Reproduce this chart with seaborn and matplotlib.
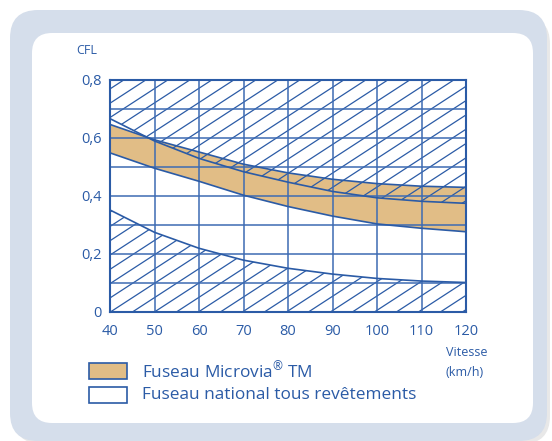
import matplotlib
matplotlib.use("Agg")
import matplotlib.pyplot as plt
from matplotlib.patches import FancyBboxPatch, Rectangle
from matplotlib.transforms import IdentityTransform
import numpy as np
import pandas as pd
import seaborn as sns

# vitesse (km/h)
vitesse = [40, 50, 60, 70, 80, 90, 100, 110, 120]
# fuseau Microvia TM
microvia_haut = [0.645, 0.592, 0.55, 0.508, 0.478, 0.456, 0.441, 0.432, 0.428]
microvia_bas = [0.547, 0.494, 0.449, 0.401, 0.362, 0.329, 0.302, 0.287, 0.275]
# fuseau national tous revetements
national_haut = [0.665, 0.588, 0.528, 0.482, 0.446, 0.414, 0.392, 0.38, 0.373]
national_bas = [0.35, 0.273, 0.218, 0.177, 0.149, 0.129, 0.114, 0.105, 0.10]

x_ticks = [40, 50, 60, 70, 80, 90, 100, 110, 120]
y_labels = ["0", "", "0,2", "", "0,4", "", "0,6", "", "0,8"]

bleu = "#2b5ba6"
tan = "#e1bd86"

sns.set_style("white")
plt.rcParams["font.family"] = ["Open Sans", "DejaVu Sans"]
plt.rcParams["mathtext.fontset"] = "custom"
plt.rcParams["mathtext.rm"] = "Open Sans"

fig = plt.figure(figsize=(5.52, 4.41), dpi=100)
fig.patch.set_facecolor("white")

# cadre arrondi (pixels, origine en bas a gauche)
H = 441
ombre = FancyBboxPatch((14, H - 444), 536, 428, boxstyle="round,pad=0,rounding_size=28",
                       transform=IdentityTransform(), facecolor="#e8e8e8", edgecolor="none", zorder=-3)
cadre = FancyBboxPatch((10, H - 441), 537, 431, boxstyle="round,pad=0,rounding_size=28",
                       transform=IdentityTransform(), facecolor="#d5deeb", edgecolor="none", zorder=-2)
interieur = FancyBboxPatch((32, H - 423), 501, 390, boxstyle="round,pad=0,rounding_size=20",
                           transform=IdentityTransform(), facecolor="white", edgecolor="none", zorder=-1)
for p in (ombre, cadre, interieur):
    fig.patches.append(p)

ax = fig.add_axes([110 / 552, 129.5 / 441, 356 / 552, 232 / 441])
ax.set_facecolor("none")

df = pd.DataFrame({"vitesse": vitesse, "mh": microvia_haut, "mb": microvia_bas,
                   "nh": national_haut, "nb": national_bas})

ax.fill_between(df["vitesse"], df["mb"], df["mh"], facecolor=tan, edgecolor="none", zorder=1)

# zones hachurees hors fuseau national
zone_haut = ax.fill_between(df["vitesse"], df["nh"], 0.8, facecolor="none", edgecolor="none", zorder=2)
zone_bas = ax.fill_between(df["vitesse"], 0, df["nb"], facecolor="none", edgecolor="none", zorder=2)
pente = 0.65 * (356 / 80) / 290
pas = 22 / (356 / 80)
xs = np.array([40, 120])
for zone, phase in ((zone_haut, 48.2 - 0.8 / pente), (zone_bas, 45.2)):
    for x0 in np.arange(phase - 20 * pas, 125, pas):
        l, = ax.plot(xs, pente * (xs - x0), color=bleu, lw=0.9, zorder=2)
        l.set_clip_path(zone.get_paths()[0], ax.transData)

for col in ["mh", "mb", "nh", "nb"]:
    sns.lineplot(data=df, x="vitesse", y=col, ax=ax, color=bleu, lw=1.2, zorder=3)

ax.set_xlim(40, 120)
ax.set_ylim(0, 0.8)
ax.set_xticks(x_ticks)
ax.set_yticks(np.arange(0, 0.81, 0.1))
ax.set_xticklabels([str(v) for v in x_ticks])
ax.set_yticklabels(y_labels)
ax.grid(True, color="#3d6bb3", lw=1.1, zorder=2.5)
ax.set_axisbelow(False)
ax.tick_params(length=0, colors=bleu, labelsize=10.5)
ax.tick_params(axis="x", pad=9)
ax.tick_params(axis="y", pad=6)
for s in ax.spines.values():
    s.set_color(bleu)
    s.set_linewidth(1.5)
    s.set_zorder(4)
ax.set_xlabel("")
ax.set_ylabel("")

fig.text(76 / 552, 1 - 50 / 441, "CFL", color=bleu, fontsize=9, va="center", ha="left")
fig.text(446 / 552, 1 - 353 / 441, "Vitesse", color=bleu, fontsize=9, va="center", ha="left")
fig.text(446 / 552, 1 - 372 / 441, "(km/h)", color=bleu, fontsize=9, va="center", ha="left")

# legende
fig.patches.append(Rectangle((89, H - 379), 38, 16, transform=IdentityTransform(),
                             facecolor=tan, edgecolor=bleu, lw=1.2))
fig.patches.append(Rectangle((89, H - 403), 38, 16, transform=IdentityTransform(),
                             facecolor="white", edgecolor=bleu, lw=1.2))
fig.text(142 / 552, 1 - 371 / 441, "Fuseau Microvia$^{\\mathrm{®}}$ TM", color=bleu, fontsize=12.4,
         va="center", ha="left")
fig.text(142 / 552, 1 - 395 / 441, "Fuseau national tous revêtements", color=bleu, fontsize=12.4,
         va="center", ha="left")

fig.savefig("out.png", dpi=100)
